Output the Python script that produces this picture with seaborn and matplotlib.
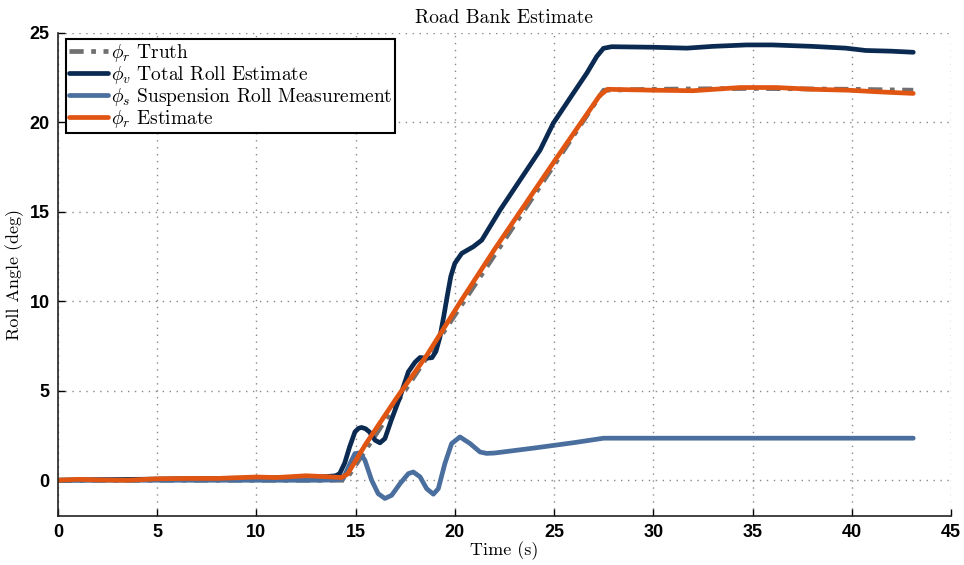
import numpy as np
import pandas as pd
import matplotlib
matplotlib.use("Agg")
import matplotlib.pyplot as plt
import seaborn as sns

# === DATOS ===
t_truth = [0, 14.5, 27.5, 30, 35, 40, 43.1]
roll_truth = [0, 0, 21.8, 21.85, 21.9, 21.85, 21.8]

t_total = [0, 2, 4, 6, 8, 10, 12, 13.5, 14.0, 14.2, 14.45, 14.7, 14.97, 15.15, 15.3,
           15.5, 15.7, 15.98, 16.23, 16.48, 16.8, 17.24, 17.66, 18.0, 18.25, 18.58,
           18.85, 19.05, 19.25, 19.45, 19.62, 19.8, 20.0, 20.35, 20.93, 21.36, 22.28,
           23.29, 24.3, 24.96, 25.97, 26.65, 27.15, 27.49, 27.9, 30, 31.7, 33,
           34.7, 36, 38, 39.7, 40.7, 42, 43.1]
roll_total = [0, 0.03, 0.05, 0.08, 0.1, 0.12, 0.15, 0.2, 0.25, 0.37, 0.95, 1.86,
              2.7, 2.9, 2.95, 2.88, 2.7, 2.24, 2.09, 2.33, 3.36, 4.66, 6.06, 6.6,
              6.86, 6.82, 6.85, 7.2, 8.0, 9.2, 10.3, 11.4, 12.12, 12.68, 13.05,
              13.42, 15.1, 16.78, 18.46, 19.95, 21.63, 22.75, 23.68, 24.14, 24.23,
              24.2, 24.15, 24.25, 24.33, 24.33, 24.25, 24.15, 24.02, 23.98, 23.92]

t_susp = [0, 5, 10, 13.2, 14.0, 14.38, 14.72, 14.97, 15.22, 15.47, 15.81, 16.14,
          16.48, 16.82, 17.24, 17.66, 17.91, 18.25, 18.58, 18.92, 19.17, 19.5,
          19.84, 20.26, 20.77, 21.27, 21.6, 22, 24, 26, 27.5, 30, 35, 40, 43.1]
roll_susp = [0, 0, 0, 0, 0.02, 0.09, 0.93, 1.49, 1.53, 1.12, 0, -0.75, -1.02,
             -0.84, -0.19, 0.37, 0.46, 0.19, -0.47, -0.78, -0.47, 0.93, 2.05,
             2.42, 2.05, 1.58, 1.5, 1.52, 1.8, 2.1, 2.35, 2.35, 2.35, 2.35, 2.35]

t_est = [0, 1, 2, 3.5, 5, 6.5, 8, 10, 11, 12.5, 13.5, 14.3, 14.6, 15.5, 17.1, 18.6,
         20.3, 22, 25, 27.3, 27.7, 30, 32, 34.4, 36.2, 38, 39.8, 41.5, 43.1]
roll_est = [0, 0.05, 0.02, 0.0, 0.08, 0.1, 0.1, 0.18, 0.15, 0.25, 0.2, 0.15, 0.35,
            2.0, 4.65, 7.0, 10.0, 12.9, 17.8, 21.5, 21.85, 21.8, 21.77, 21.95,
            21.95, 21.85, 21.8, 21.7, 21.62]

labels = [r"$\phi_r$ Truth", r"$\phi_v$ Total Roll Estimate",
          r"$\phi_s$ Suspension Roll Measurement", r"$\phi_r$ Estimate"]
x_ticks = [0, 5, 10, 15, 20, 25, 30, 35, 40, 45]
y_ticks = [0, 5, 10, 15, 20, 25]

# === ESTILO ===
sns.set_theme(style="ticks")
plt.rcParams["mathtext.fontset"] = "cm"
plt.rcParams["font.family"] = ["DejaVu Sans"]
serif = "cmr10"

fig = plt.figure(figsize=(9.64, 5.65), dpi=100)
ax = fig.add_axes([0.060, 0.0867, 0.9265, 0.855])

series = [
    (t_truth, roll_truth, "#707070", (0, (3, 1.6, 1, 1.6))),
    (t_total, roll_total, "#0b2a52", "-"),
    (t_susp, roll_susp, "#4a6e9e", "-"),
    (t_est, roll_est, "#e05512", "-"),
]
for (tt, yy, col, ls), lab in zip(series, labels):
    df = pd.DataFrame({"t": tt, "roll": yy})
    sns.lineplot(data=df, x="t", y="roll", ax=ax, color=col, linestyle=ls,
                 linewidth=3.4, label=lab, estimator=None, sort=False)

ax.set_xlim(0, 45)
ax.set_ylim(-2, 25)
ax.set_xticks(x_ticks)
ax.set_yticks(y_ticks)
ax.set_xticklabels([str(v) for v in x_ticks], fontfamily="Liberation Sans",
                   fontweight="bold", fontsize=13, color="black")
ax.set_yticklabels([str(v) for v in y_ticks], fontfamily="Liberation Sans",
                   fontweight="bold", fontsize=13, color="black")
ax.tick_params(direction="in", length=5, width=1.0, color="black", pad=6)
ax.grid(True, linestyle=(0, (1, 4)), color="#888888", linewidth=1.0)
for s in ["top", "right"]:
    ax.spines[s].set_visible(False)
for s in ["left", "bottom"]:
    ax.spines[s].set_color("#222222")
    ax.spines[s].set_linewidth(1.2)

ax.set_title("Road Bank Estimate", fontfamily=serif, fontsize=14, pad=7,
             color="black")
ax.set_xlabel("Time (s)", fontfamily=serif, fontsize=13, labelpad=0, color="black")
ax.set_ylabel("Roll Angle (deg)", fontfamily=serif, fontsize=13, labelpad=4,
              color="black")

leg = ax.legend(loc="upper left", bbox_to_anchor=(0.005, 0.995),
                prop={"family": serif, "size": 14}, frameon=True, fancybox=False,
                handlelength=2.0, handletextpad=0.15, labelspacing=0.0,
                borderpad=0.15, borderaxespad=0.2)
leg.get_frame().set_edgecolor("black")
leg.get_frame().set_linewidth(1.5)
leg.get_frame().set_alpha(1.0)
for txt in leg.get_texts():
    txt.set_color("black")

fig.savefig("out.png", dpi=100)
plt.close(fig)
